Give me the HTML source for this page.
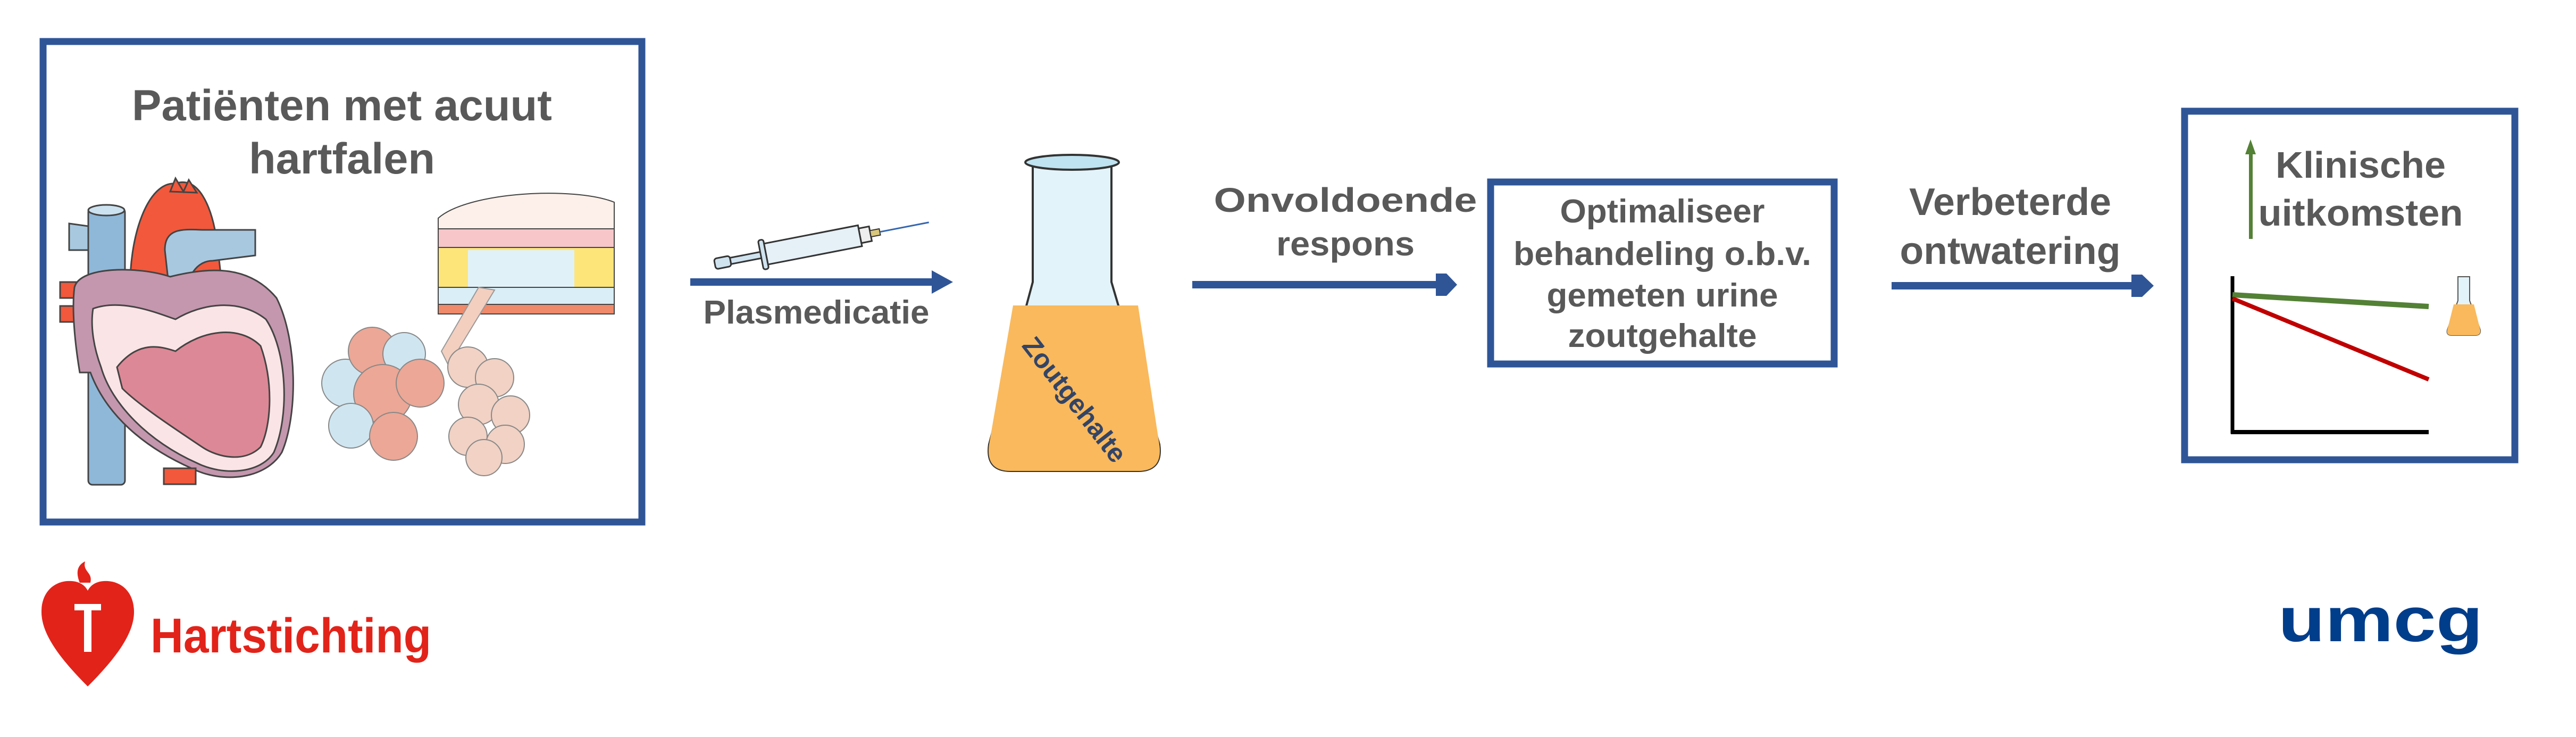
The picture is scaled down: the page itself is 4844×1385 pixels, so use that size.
<!DOCTYPE html>
<html><head><meta charset="utf-8"><style>
html,body{margin:0;padding:0;background:#fff;}
svg{display:block;}
text{font-family:"Liberation Sans",Arial,sans-serif;font-weight:bold;}
</style></head><body>
<svg width="4844" height="1385" viewBox="0 0 4844 1385" xmlns="http://www.w3.org/2000/svg">
<rect width="4844" height="1385" fill="#fff"/>
<!-- Box 1 -->
<rect x="81" y="78" width="1126" height="903" fill="none" stroke="#2f5597" stroke-width="13"/>
<text x="643" y="226" font-size="82" fill="#595959" text-anchor="middle" textLength="790" lengthAdjust="spacingAndGlyphs">Patiënten met acuut</text>
<text x="643" y="326" font-size="82" fill="#595959" text-anchor="middle" textLength="350" lengthAdjust="spacingAndGlyphs">hartfalen</text>
<!-- heart -->
<g stroke="#444" stroke-width="3">
<rect x="166" y="391" width="69" height="520" rx="8" fill="#8fb8d8"/>
<ellipse cx="200" cy="395" rx="34" ry="10" fill="#cde2f0"/>
<path d="M130 420 L166 425 L166 470 L130 470 Z" fill="#a8c8e0"/>
<path d="M245 560 C240 440 280 340 330 345 C370 330 400 380 410 470 L420 560 Z" fill="#f2583b"/>
<path d="M320 360 L330 335 L345 360 L355 338 L370 362 Z" fill="#f2583b"/>
<path d="M310 470 C310 430 340 430 380 432 L480 432 L480 480 L400 490 C370 490 350 520 350 560 L320 560 Z" fill="#a8c8e0"/>
<rect x="113" y="530" width="30" height="30" fill="#f2583b"/>
<rect x="113" y="575" width="30" height="30" fill="#f2583b"/>
<path d="M140 540 C150 500 260 500 320 520 C400 500 470 500 520 560 C560 640 560 780 530 850 C500 900 420 910 360 880 C270 840 200 780 170 700 L150 700 C140 640 135 580 140 540 Z" fill="#c497ae"/>
<path d="M175 580 C230 560 300 590 330 600 C380 570 450 560 500 600 C540 660 545 780 515 850 C490 890 420 895 370 870 C280 830 210 760 190 690 C175 650 170 610 175 580 Z" fill="#fbe4e6"/>
<path d="M220 690 C260 640 300 650 330 660 C380 620 450 610 490 650 C515 720 510 800 490 840 C460 870 410 860 380 840 C320 800 260 760 230 730 Z" fill="#dd8896"/>
<rect x="308" y="880" width="60" height="30" fill="#f2583b"/>
</g>
<!-- skin block -->
<g stroke="#444" stroke-width="2">
<path d="M824 410 C880 360 1080 350 1155 380 L1155 590 L824 590 Z" fill="#fdf0ea"/>
<rect x="824" y="430" width="331" height="40" fill="#f6c6c9"/>
<rect x="824" y="465" width="331" height="80" fill="#fde57a"/>
<rect x="880" y="470" width="200" height="70" fill="#e0f2f8" stroke="none"/>
<rect x="824" y="540" width="331" height="35" fill="#d9eef6"/>
<rect x="824" y="572" width="331" height="18" fill="#ef8a6a"/>
</g>
<!-- alveoli -->
<path d="M900 540 L930 545 L860 660 L880 700 L850 700 L830 660 Z" fill="#f3cfc0" stroke="#999" stroke-width="2"/>
<g stroke="#888" stroke-width="2">
<circle cx="650" cy="720" r="45" fill="#cfe6f1"/>
<circle cx="700" cy="660" r="45" fill="#eca796"/>
<circle cx="760" cy="665" r="40" fill="#cfe6f1"/>
<circle cx="720" cy="740" r="55" fill="#eca796"/>
<circle cx="790" cy="720" r="45" fill="#eca796"/>
<circle cx="660" cy="800" r="42" fill="#cfe6f1"/>
<circle cx="740" cy="820" r="45" fill="#eca796"/>
<circle cx="880" cy="690" r="38" fill="#f1d2c4"/>
<circle cx="930" cy="710" r="36" fill="#f1d2c4"/>
<circle cx="900" cy="760" r="38" fill="#f1d2c4"/>
<circle cx="960" cy="780" r="36" fill="#f1d2c4"/>
<circle cx="880" cy="820" r="36" fill="#f1d2c4"/>
<circle cx="950" cy="835" r="36" fill="#f1d2c4"/>
<circle cx="910" cy="860" r="34" fill="#f1d2c4"/>
</g>
<!-- arrow 1 -->
<rect x="1298" y="523" width="460" height="14" fill="#2f5597"/>
<polygon points="1752,508 1792,530 1752,552" fill="#2f5597"/>
<text x="1535" y="608" font-size="62" fill="#595959" text-anchor="middle" textLength="425" lengthAdjust="spacingAndGlyphs">Plasmedicatie</text>
<!-- syringe -->
<g transform="rotate(-11 1540 455)">
<rect x="1340" y="448" width="30" height="20" rx="5" fill="#cfe3ef" stroke="#333" stroke-width="3"/>
<rect x="1370" y="452" width="60" height="12" fill="#cfe3ef" stroke="#333" stroke-width="3"/>
<rect x="1428" y="430" width="10" height="56" rx="4" fill="#cfe3ef" stroke="#333" stroke-width="3"/>
<rect x="1438" y="438" width="180" height="40" fill="#e6f0f7" stroke="#333" stroke-width="3"/>
<rect x="1618" y="444" width="20" height="28" fill="#eee" stroke="#333" stroke-width="3"/>
<rect x="1638" y="452" width="18" height="12" fill="#d8c77c" stroke="#333" stroke-width="2"/>
<line x1="1656" y1="458" x2="1750" y2="458" stroke="#3566b0" stroke-width="3"/>
</g>
<!-- flask -->
<path d="M1942 305 L2090 305 L2090 530 L2180 835 C2185 870 2170 885 2140 885 L1900 885 C1870 885 1855 870 1860 835 L1942 530 Z" fill="#e2f3f9" stroke="#333" stroke-width="4"/>
<path d="M1905 574 L2140 574 L2180 835 C2185 870 2170 885 2140 885 L1900 885 C1870 885 1855 870 1860 835 Z" fill="#f9b95c"/>
<ellipse cx="2016" cy="305" rx="88" ry="14" fill="#bfe3f0" stroke="#333" stroke-width="4"/>
<text x="0" y="0" font-size="50" fill="#334466" transform="translate(1920 650) rotate(52)">Zoutgehalte</text>
<!-- arrow 2 -->
<text x="2530" y="398" font-size="64" fill="#595959" text-anchor="middle" textLength="495" lengthAdjust="spacingAndGlyphs">Onvoldoende</text>
<text x="2530" y="480" font-size="64" fill="#595959" text-anchor="middle" textLength="260" lengthAdjust="spacingAndGlyphs">respons</text>
<rect x="2242" y="528" width="462" height="14" fill="#2f5597"/>
<polygon points="2700,514 2720,514 2740,535 2720,556 2700,556" fill="#2f5597"/>
<!-- box 2 -->
<rect x="2803" y="342" width="646" height="342" fill="none" stroke="#2f5597" stroke-width="13"/>
<text x="3126" y="418" font-size="62" fill="#595959" text-anchor="middle" textLength="385" lengthAdjust="spacingAndGlyphs">Optimaliseer</text>
<text x="3126" y="498" font-size="62" fill="#595959" text-anchor="middle" textLength="560" lengthAdjust="spacingAndGlyphs">behandeling o.b.v.</text>
<text x="3126" y="576" font-size="62" fill="#595959" text-anchor="middle" textLength="435" lengthAdjust="spacingAndGlyphs">gemeten urine</text>
<text x="3126" y="652" font-size="62" fill="#595959" text-anchor="middle" textLength="355" lengthAdjust="spacingAndGlyphs">zoutgehalte</text>
<!-- arrow 3 -->
<text x="3780" y="404" font-size="72" fill="#595959" text-anchor="middle" textLength="380" lengthAdjust="spacingAndGlyphs">Verbeterde</text>
<text x="3780" y="496" font-size="72" fill="#595959" text-anchor="middle" textLength="415" lengthAdjust="spacingAndGlyphs">ontwatering</text>
<rect x="3557" y="530" width="455" height="14" fill="#2f5597"/>
<polygon points="4008,516 4028,516 4050,537 4028,558 4008,558" fill="#2f5597"/>
<!-- box 3 -->
<rect x="4108" y="209" width="621" height="655" fill="none" stroke="#2f5597" stroke-width="13"/>
<rect x="4229" y="285" width="7" height="164" fill="#538135"/>
<polygon points="4222,290 4232,262 4242,290" fill="#538135"/>
<text x="4439" y="334" font-size="70" fill="#595959" text-anchor="middle" textLength="320" lengthAdjust="spacingAndGlyphs">Klinische</text>
<text x="4439" y="424" font-size="70" fill="#595959" text-anchor="middle" textLength="385" lengthAdjust="spacingAndGlyphs">uitkomsten</text>
<line x1="4198" y1="519" x2="4198" y2="815" stroke="#000" stroke-width="7"/>
<line x1="4195" y1="812" x2="4567" y2="812" stroke="#000" stroke-width="8"/>
<line x1="4198" y1="554" x2="4567" y2="576" stroke="#538135" stroke-width="10"/>
<line x1="4198" y1="561" x2="4567" y2="713" stroke="#c00000" stroke-width="8"/>
<path d="M4622 520 L4644 520 L4644 565 L4664 620 C4665 628 4660 630 4655 630 L4610 630 C4605 630 4600 628 4602 620 L4622 565 Z" fill="#e2f3f9" stroke="#555" stroke-width="2"/>
<path d="M4614 572 L4652 572 L4664 620 C4665 628 4660 630 4655 630 L4610 630 C4605 630 4600 628 4602 620 Z" fill="#f9b95c"/>
<!-- Hartstichting logo -->
<path d="M165 1290 C110 1235 78 1190 78 1150 C78 1110 105 1090 135 1092 C150 1093 160 1100 165 1110 C170 1100 180 1093 195 1092 C225 1090 252 1110 252 1150 C252 1190 220 1235 165 1290 Z" fill="#e2231a"/>
<path d="M150 1095 C140 1070 150 1060 160 1055 C155 1075 175 1075 170 1095 Z" fill="#e2231a"/>
<rect x="140" y="1135" width="50" height="12" fill="#fff"/>
<rect x="158" y="1135" width="14" height="90" fill="#fff"/>
<text x="283" y="1226" font-size="92" fill="#e2231a" textLength="528" lengthAdjust="spacingAndGlyphs">Hartstichting</text>
<!-- umcg -->
<text x="4284" y="1205" font-size="118" fill="#003d8a" textLength="385" lengthAdjust="spacingAndGlyphs">umcg</text>
</svg>
</body></html>
